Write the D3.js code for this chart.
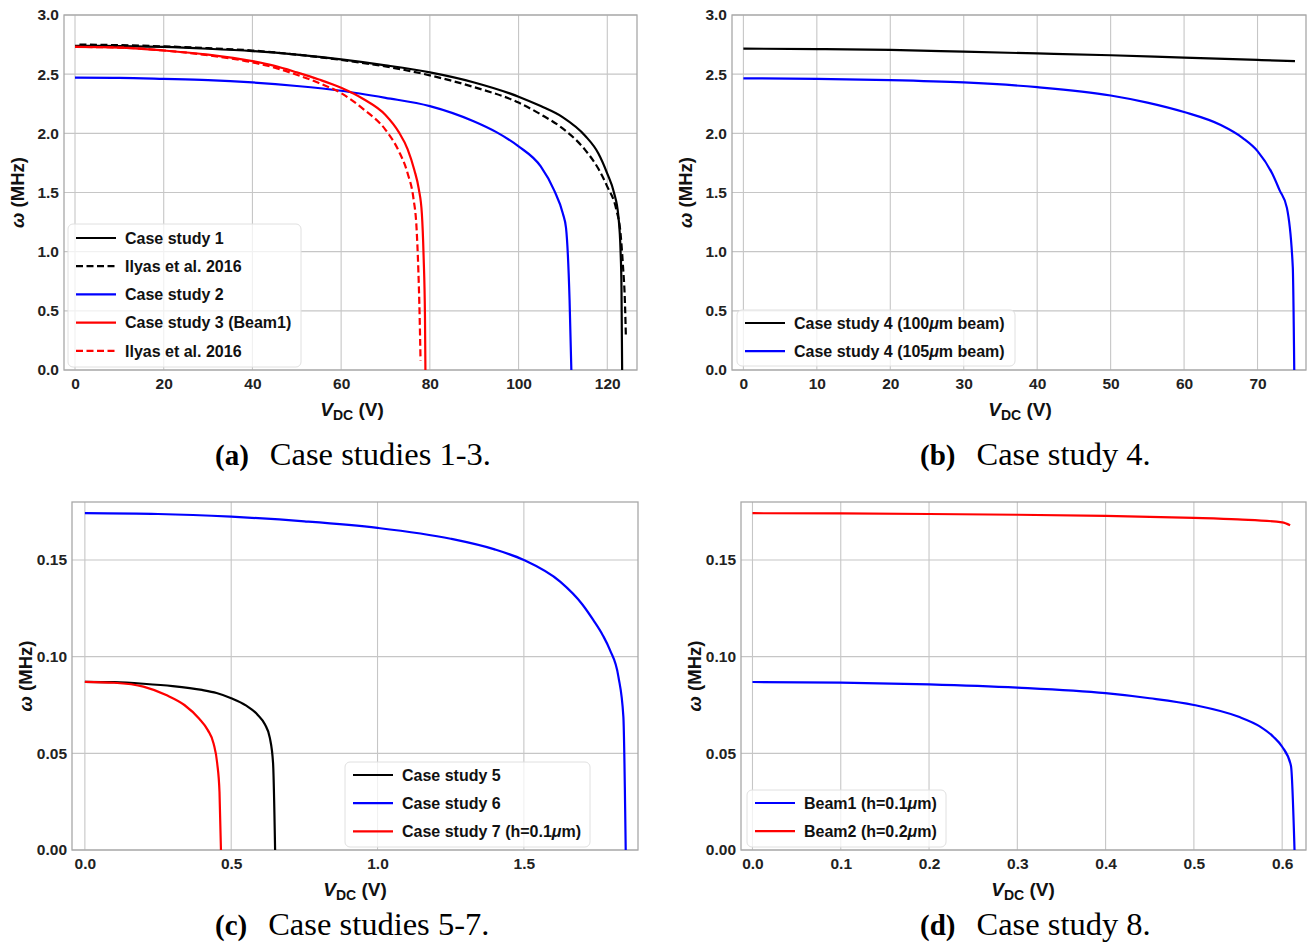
<!DOCTYPE html>
<html><head><meta charset="utf-8">
<script src="https://cdn.jsdelivr.net/npm/d3@7"></script>
<style>
html,body{margin:0;padding:0;background:#fff;}
svg{display:block;}
.tick text{font-family:"Liberation Sans",Arial,sans-serif;font-weight:bold;font-size:15.5px;fill:#222;}
</style></head>
<body>
<svg id="chart" width="1310" height="943"></svg>
<script>
// ---------- Panel (a): Case studies 1-3 ----------
const a_case1_V = [0,10,20,30,40,50,60,70,80,90,100,105,110,115,118,120,121.5,122.5,123,123.2,123.35];
const a_case1_W = [2.74,2.737,2.73,2.715,2.695,2.665,2.625,2.575,2.515,2.43,2.31,2.23,2.135,1.98,1.83,1.66,1.50,1.30,1.00,0.70,0.0];
const a_ilyas1_V = [1,10,20,30,40,50,60,70,80,90,100,105,110,115,118,120,122,123,123.5,124,124.2];
const a_ilyas1_W = [2.75,2.745,2.735,2.72,2.70,2.665,2.62,2.565,2.49,2.39,2.26,2.16,2.04,1.86,1.70,1.55,1.36,1.15,0.90,0.55,0.27];
const a_case2_V = [0,10,20,30,40,50,60,70,80,90,95,100,105,108,110,110.7,111.5,111.9];
const a_case2_W = [2.47,2.468,2.46,2.45,2.43,2.40,2.36,2.30,2.23,2.10,2.01,1.89,1.72,1.52,1.32,1.20,0.59,0.0];
const a_case3_V = [0,10,20,30,40,45,50,55,60,65,70,73,75,76.5,77.5,78.2,78.6,78.9,79];
const a_case3_W = [2.73,2.725,2.70,2.665,2.61,2.57,2.515,2.455,2.385,2.29,2.155,2.01,1.865,1.69,1.53,1.32,0.95,0.45,0.0];
const a_ilyas3_V = [0,10,20,30,40,45,50,55,60,65,70,73,75,76.3,77.0,77.4,77.7,77.9];
const a_ilyas3_W = [2.73,2.725,2.70,2.66,2.60,2.555,2.495,2.425,2.34,2.205,2.03,1.85,1.66,1.45,1.20,0.85,0.45,0.08];
const a_xTicks = [0,20,40,60,80,100,120];
const a_yTicks = [0,0.5,1.0,1.5,2.0,2.5,3.0];
const a_labels = ["Case study 1","Ilyas et al. 2016","Case study 2","Case study 3 (Beam1)","Ilyas et al. 2016"];

// ---------- Panel (b): Case study 4 ----------
const b_100_V = [0,10,20,30,40,50,60,70,75.1];
const b_100_W = [2.716,2.712,2.705,2.69,2.675,2.66,2.64,2.62,2.61];
const b_105_V = [0,10,20,30,40,50,55,60,65,68,70,72,73,74,74.8,75.0];
const b_105_W = [2.465,2.46,2.45,2.43,2.39,2.32,2.26,2.18,2.07,1.96,1.85,1.66,1.52,1.37,0.87,0.0];
const b_xTicks = [0,10,20,30,40,50,60,70];
const b_yTicks = [0,0.5,1.0,1.5,2.0,2.5,3.0];
const b_labels = [["Case study 4 (100","μ","m beam)"],["Case study 4 (105","μ","m beam)"]];

// ---------- Panel (c): Case studies 5-7 ----------
const c_case5_V = [0,0.1,0.2,0.3,0.4,0.45,0.5,0.55,0.59,0.615,0.632,0.643,0.65];
const c_case5_W = [0.087,0.0868,0.086,0.0848,0.0828,0.0812,0.0785,0.0748,0.070,0.065,0.058,0.045,0.0];
const c_case6_V = [0,0.25,0.5,0.75,1.0,1.25,1.4,1.5,1.624,1.7,1.737,1.77,1.794,1.823,1.84,1.848];
const c_case6_W = [0.1742,0.1738,0.1724,0.170,0.1666,0.161,0.1555,0.150,0.1388,0.127,0.119,0.111,0.1035,0.0897,0.069,0.0];
const c_case7_V = [0,0.1,0.2,0.28,0.34,0.39,0.42,0.44,0.452,0.46,0.465];
const c_case7_W = [0.087,0.0865,0.0845,0.080,0.075,0.068,0.062,0.055,0.045,0.030,0.0];
const c_xTicks = [0,0.5,1.0,1.5];
const c_yTicks = [0,0.05,0.10,0.15];
const c_labels = [["Case study 5"],["Case study 6"],["Case study 7 (h=0.1","μ","m)"]];

// ---------- Panel (d): Case study 8 ----------
const d_beam1_V = [0,0.1,0.2,0.3,0.4,0.45,0.5,0.55,0.575,0.59,0.6,0.61,0.614];
const d_beam1_W = [0.0869,0.0866,0.0857,0.0840,0.0811,0.0785,0.0750,0.069,0.0638,0.0586,0.0534,0.0435,0.0];
const d_beam2_V = [0,0.1,0.2,0.3,0.4,0.5,0.55,0.6,0.609];
const d_beam2_W = [0.1742,0.1741,0.1738,0.1734,0.1728,0.1718,0.171,0.1695,0.168];
const d_xTicks = [0,0.1,0.2,0.3,0.4,0.5,0.6];
const d_yTicks = [0,0.05,0.10,0.15];
const d_labels = [["Beam1 (h=0.1","μ","m)"],["Beam2 (h=0.2","μ","m)"]];

const captions = [["(a)","Case studies 1-3."],["(b)","Case study 4."],["(c)","Case studies 5-7."],["(d)","Case study 8."]];

const zip = (V,W) => V.map((v,i)=>[v,W[i]]);
const svg = d3.select("#chart");
const SANS = '"Liberation Sans",Arial,sans-serif';
const SERIF = '"Liberation Serif","Times New Roman",serif';

function panel(cfg){
  const x = d3.scaleLinear().domain(cfg.xDom).range([cfg.L,cfg.R]);
  const y = d3.scaleLinear().domain(cfg.yDom).range([cfg.B,cfg.T]);
  const g = svg.append("g");
  // grid
  g.append("g").selectAll("line").data(cfg.xTicks).join("line")
    .attr("x1",d=>x(d)).attr("x2",d=>x(d)).attr("y1",cfg.T).attr("y2",cfg.B)
    .attr("stroke","#c6c6c6").attr("stroke-width",1.1);
  g.append("g").selectAll("line").data(cfg.yTicks).join("line")
    .attr("y1",d=>y(d)).attr("y2",d=>y(d)).attr("x1",cfg.L).attr("x2",cfg.R)
    .attr("stroke","#c6c6c6").attr("stroke-width",1.1);
  // axes (labels only)
  const xa = g.append("g").attr("transform",`translate(0,${cfg.B})`)
    .call(d3.axisBottom(x).tickValues(cfg.xTicks).tickFormat(cfg.xFmt).tickSize(0).tickPadding(8));
  xa.select(".domain").remove();
  const ya = g.append("g").attr("transform",`translate(${cfg.L},0)`)
    .call(d3.axisLeft(y).tickValues(cfg.yTicks).tickFormat(cfg.yFmt).tickSize(0).tickPadding(5));
  ya.select(".domain").remove();
  // frame
  g.append("rect").attr("x",cfg.L).attr("y",cfg.T).attr("width",cfg.R-cfg.L).attr("height",cfg.B-cfg.T)
    .attr("fill","none").attr("stroke","#a8a8a8").attr("stroke-width",1.3);
  // series
  const line = d3.line().curve(d3.curveMonotoneX).x(d=>x(d[0])).y(d=>y(d[1]));
  cfg.series.forEach(s=>{
    g.append("path").datum(s.data).attr("d",line).attr("fill","none")
      .attr("stroke",s.color).attr("stroke-width",2.2)
      .attr("stroke-dasharray",s.dash?"7,3.5":null).attr("stroke-linejoin","round");
  });
  // legend
  const lg = cfg.legend;
  g.append("rect").attr("x",lg.x).attr("y",lg.y).attr("width",lg.w).attr("height",lg.h)
    .attr("rx",5).attr("fill","#fff").attr("fill-opacity",0.75).attr("stroke","#e0e0e0").attr("stroke-width",1);
  cfg.series.forEach((s,i)=>{
    const yy = lg.y0 + i*28.2;
    g.append("line").attr("x1",lg.x+8).attr("x2",lg.x+48).attr("y1",yy).attr("y2",yy)
      .attr("stroke",s.color).attr("stroke-width",2.2).attr("stroke-dasharray",s.dash?"7,3.5":null);
    const t = g.append("text").attr("x",lg.x+57).attr("y",yy+5.7)
      .attr("font-family",SANS).attr("font-weight","bold").attr("font-size",16).attr("fill","#111");
    const parts = Array.isArray(s.label)?s.label:[s.label];
    parts.forEach((p,k)=>{ const ts=t.append("tspan").text(p); if(p==="μ") ts.attr("font-style","italic"); });
  });
  // y label
  const yl = g.append("text").attr("transform",`translate(${cfg.L-40},${(cfg.T+cfg.B)/2}) rotate(-90)`)
    .attr("text-anchor","middle").attr("font-family",SANS).attr("font-weight","bold").attr("font-size",18.5).attr("fill","#111");
  yl.append("tspan").attr("font-style","italic").text("ω");
  yl.append("tspan").text(" (MHz)");
  // x label
  const xl = g.append("text").attr("x",cfg.xLabelX).attr("y",cfg.B+46)
    .attr("text-anchor","middle").attr("font-family",SANS).attr("font-weight","bold").attr("font-size",19).attr("fill","#111");
  xl.append("tspan").attr("font-style","italic").text("V");
  xl.append("tspan").attr("font-size",14).attr("dy",4).text("DC");
  xl.append("tspan").attr("dy",-4).text(" (V)");
  // caption
  const ct = svg.append("text").attr("x",cfg.capX).attr("y",cfg.capY)
    .attr("font-family",SERIF).attr("font-size",32.5).attr("fill","#000");
  ct.append("tspan").attr("font-weight","bold").attr("font-size",29).text(cfg.caption[0]);
  ct.append("tspan").attr("dx",21).text(cfg.caption[1]);
}

const f1 = d3.format(".1f"), f2 = d3.format(".2f"), f0 = d3.format("d");

panel({L:64,R:637,T:15,B:370,xDom:[-2.48,126.7],yDom:[0,3],xTicks:a_xTicks,yTicks:a_yTicks,xFmt:f0,yFmt:f1,
  series:[
    {data:zip(a_case1_V,a_case1_W),color:"#000",label:a_labels[0]},
    {data:zip(a_ilyas1_V,a_ilyas1_W),color:"#000",dash:true,label:a_labels[1]},
    {data:zip(a_case2_V,a_case2_W),color:"#0000ff",label:a_labels[2]},
    {data:zip(a_case3_V,a_case3_W),color:"#ff0000",label:a_labels[3]},
    {data:zip(a_ilyas3_V,a_ilyas3_W),color:"#ff0000",dash:true,label:a_labels[4]}],
  legend:{x:68,y:224,w:233,h:143,y0:238},xLabelX:352,caption:captions[0],capX:215,capY:465});

panel({L:732,R:1306,T:15,B:370,xDom:[-1.55,76.6],yDom:[0,3],xTicks:b_xTicks,yTicks:b_yTicks,xFmt:f0,yFmt:f1,
  series:[
    {data:zip(b_100_V,b_100_W),color:"#000",label:b_labels[0]},
    {data:zip(b_105_V,b_105_W),color:"#0000ff",label:b_labels[1]}],
  legend:{x:737,y:310,w:278,h:56,y0:323},xLabelX:1020,caption:captions[1],capX:920,capY:465});

panel({L:72,R:638,T:502,B:850,xDom:[-0.044,1.89],yDom:[0,0.18],xTicks:c_xTicks,yTicks:c_yTicks,xFmt:f1,yFmt:f2,
  series:[
    {data:zip(c_case5_V,c_case5_W),color:"#000",label:c_labels[0]},
    {data:zip(c_case6_V,c_case6_W),color:"#0000ff",label:c_labels[1]},
    {data:zip(c_case7_V,c_case7_W),color:"#ff0000",label:c_labels[2]}],
  legend:{x:345,y:762,w:245,h:85,y0:775},xLabelX:355,caption:captions[2],capX:215,capY:935});

panel({L:741,R:1306,T:502,B:850,xDom:[-0.013,0.627],yDom:[0,0.18],xTicks:d_xTicks,yTicks:d_yTicks,xFmt:f1,yFmt:f2,
  series:[
    {data:zip(d_beam1_V,d_beam1_W),color:"#0000ff",label:d_labels[0]},
    {data:zip(d_beam2_V,d_beam2_W),color:"#ff0000",label:d_labels[1]}],
  legend:{x:747,y:790,w:199,h:57,y0:803},xLabelX:1023,caption:captions[3],capX:920,capY:935});
</script>
</body></html>
